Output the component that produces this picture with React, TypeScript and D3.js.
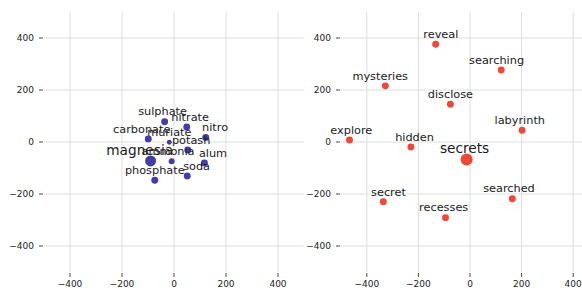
import React from 'react';
import { scaleLinear, scaleSqrt } from 'd3';

// left panel: chemistry words
const chemWords = ['sulphate', 'nitrate', 'carbonate', 'muriate', 'nitro', 'potash', 'magnesia', 'ammonia', 'alum', 'soda', 'phosphate'];
const chemX = [-36, 49, -99, -18, 122, 53, -90, -9, 117, 51, -74];
const chemY = [78, 58, 12, -1, 17, -31, -73, -74, -81, -131, -147];
const chemWeight = [1, 1, 1, 0.5, 1, 1, 2.5, 0.75, 1, 1, 1];
const chemLabelX = [-44, 62, -124, -18, 158, 66, -132, -23, 150, 87, -74];

// right panel: secret words
const secretWords = ['reveal', 'searching', 'mysteries', 'disclose', 'labyrinth', 'explore', 'hidden', 'secrets', 'searched', 'secret', 'recesses'];
const secretX = [-133, 121, -328, -76, 202, -467, -229, -13, 164, -336, -95];
const secretY = [376, 277, 216, 145, 45, 8, -19, -67, -218, -230, -291];
const secretWeight = [1, 1, 1, 1, 1, 1, 1, 3, 1, 1, 1];
const secretLabelX = [-113, 103, -348, -76, 193, -460, -215, -21, 151, -316, -102];

const ticks = [-400, -200, 0, 200, 400];
const domain = [-500, 500];

const font = 'DejaVu Sans, sans-serif';
const height = 288;
const top = 12;
const bottom = 272;

const radius = scaleSqrt().domain([0, 3]).range([0, 6]);

type PanelProps = {
  left: number;
  right: number;
  words: string[];
  xs: number[];
  ys: number[];
  weights: number[];
  labelXs: number[];
  color: string;
};

const Panel = ({ left, right, words, xs, ys, weights, labelXs, color }: PanelProps) => {
  const x = scaleLinear().domain(domain).range([left, right]);
  const y = scaleLinear().domain(domain).range([bottom, top]);
  return (
    <g>
      {ticks.map((t) => (
        <g key={'x' + t}>
          <line x1={x(t)} x2={x(t)} y1={top} y2={bottom} stroke="#dedede" strokeWidth={1} />
          <line x1={x(t)} x2={x(t)} y1={bottom + 1} y2={bottom + 5} stroke="#444" strokeWidth={1} />
          <text x={x(t)} y={bottom + 15} textAnchor="middle" fontSize={9} fill="#222" fontFamily={font}>
            {t < 0 ? '\u2212' + Math.abs(t) : t}
          </text>
        </g>
      ))}
      {ticks.map((t) => (
        <g key={'y' + t}>
          <line x1={left} x2={right} y1={y(t)} y2={y(t)} stroke="#dedede" strokeWidth={1} />
          <line x1={left - 5} x2={left - 1} y1={y(t)} y2={y(t)} stroke="#444" strokeWidth={1} />
          <text x={left - 10} y={y(t)} dy="0.35em" textAnchor="end" fontSize={9} fill="#222" fontFamily={font}>
            {t < 0 ? '\u2212' + Math.abs(t) : t}
          </text>
        </g>
      ))}
      {words.map((w, i) => (
        <circle key={'c' + w} cx={x(xs[i])} cy={y(ys[i])} r={radius(weights[i])} fill={color} fillOpacity={0.95} />
      ))}
      {words.map((w, i) => (
        <text
          key={'t' + w}
          x={x(labelXs[i])}
          y={y(ys[i]) - 6.3}
          textAnchor="middle"
          fontSize={weights[i] > 2 ? 13.7 : 11.3}
          fill="#1a1a1a"
          fontFamily={font}
        >
          {w}
        </text>
      ))}
    </g>
  );
};

const App = () => {
  return (
    <svg
      width={582}
      height={height}
      style={{ position: 'absolute', left: 0, top: 0, background: '#fff', overflow: 'hidden' }}
    >
      <Panel
        left={44}
        right={304}
        words={chemWords}
        xs={chemX}
        ys={chemY}
        weights={chemWeight}
        labelXs={chemLabelX}
        color="#3a33a3"
      />
      <Panel
        left={341}
        right={599}
        words={secretWords}
        xs={secretX}
        ys={secretY}
        weights={secretWeight}
        labelXs={secretLabelX}
        color="#ee3e2c"
      />
    </svg>
  );
};

export default App;
